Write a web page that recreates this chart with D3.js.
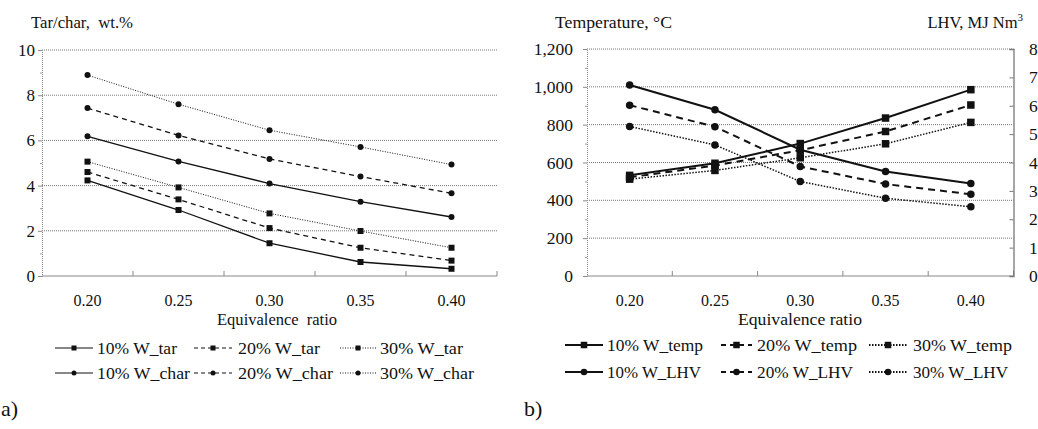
<!DOCTYPE html>
<html>
<head>
<meta charset="utf-8">
<script src="https://cdn.jsdelivr.net/npm/d3@7"></script>
</head>
<body style="margin:0">
<script>
// Dati
const ratios = ["0.20", "0.25", "0.30", "0.35", "0.40"];

const tar10 = [4.23, 2.92, 1.45, 0.62, 0.32];
const tar20 = [4.60, 3.39, 2.12, 1.25, 0.68];
const tar30 = [5.06, 3.92, 2.77, 1.99, 1.25];
const char10 = [6.18, 5.07, 4.09, 3.29, 2.61];
const char20 = [7.43, 6.22, 5.18, 4.40, 3.66];
const char30 = [8.89, 7.60, 6.45, 5.71, 4.93];

const temp10 = [532, 596, 700, 835, 985];
const temp20 = [522, 584, 665, 764, 904];
const temp30 = [512, 558, 625, 699, 812];
const lhv10 = [6.73, 5.86, 4.45, 3.68, 3.26];
const lhv20 = [6.02, 5.26, 3.86, 3.24, 2.88];
const lhv30 = [5.27, 4.62, 3.33, 2.74, 2.44];

const tarTicks = [0, 2, 4, 6, 8, 10];
const tempTicks = [0, 200, 400, 600, 800, 1000, 1200];
const lhvTicks = [0, 1, 2, 3, 4, 5, 6, 7, 8];

const FONT = "Times New Roman";

const svg = d3.select("body").append("svg").attr("width", 1038).attr("height", 429)
  .attr("font-family", FONT);

const styles = {
  solid: null,
  dashed: "5,4",
  dotted: "1,1.5"
};

// testo con font serif esplicito; len = larghezza misurata sul riferimento
function txt(parent, x, y, size, s, len) {
  const t = parent.append("text").attr("x", x).attr("y", y)
    .style("font-family", `"${FONT}"`)
    .attr("font-size", size).attr("fill", "#111").text(s);
  if (len) t.attr("textLength", len).attr("lengthAdjust", "spacingAndGlyphs");
  return t;
}

function drawPanel(opt) {
  const g = svg.append("g");
  const x = d3.scaleBand().domain(ratios).range([opt.x0, opt.x1]).padding(0);
  const y = d3.scaleLinear().domain([0, opt.yMax]).range([opt.y1, opt.y0]);

  // griglia tratteggiata
  g.selectAll(".grid").data(opt.yTicks.filter(d => d > 0)).enter().append("line")
    .attr("x1", opt.x0).attr("x2", opt.x1)
    .attr("y1", d => y(d)).attr("y2", d => y(d))
    .attr("stroke", "#777").attr("stroke-width", 1).attr("stroke-dasharray", "1,1");

  // asse y sinistro (linee con d3.axis, etichette a parte)
  const ay = g.append("g").attr("transform", `translate(${opt.x0},0)`)
    .call(d3.axisLeft(y).tickValues(opt.yTicks).tickSize(4).tickFormat(""));
  ay.select(".domain").attr("stroke", "#888").attr("stroke-dasharray", "1,1");
  ay.selectAll(".tick line").attr("stroke", "#888");
  opt.yTicks.forEach(v => {
    txt(g, opt.x0 - 4 - opt.yPad, y(v) + 6, opt.fs, opt.yFormat(v)).attr("text-anchor", "end");
  });

  const step = opt.yMax / (opt.yTicks.length - 1);
  const minorTicks = opt.yTicks.slice(0, -1).map(d => d + step / 2);
  g.append("g").attr("transform", `translate(${opt.x0},0)`)
    .call(d3.axisLeft(y).tickValues(minorTicks).tickSize(2).tickFormat(""))
    .call(a => a.select(".domain").remove())
    .selectAll(".tick line").attr("stroke", "#999");

  // asse x
  g.append("line").attr("x1", opt.x0).attr("x2", opt.x1)
    .attr("y1", opt.y1).attr("y2", opt.y1).attr("stroke", "#888");
  const edges = ratios.map(r => x(r)).concat([opt.x1]);
  g.selectAll(".xt").data(edges.slice(1)).enter().append("line")
    .attr("x1", d => d).attr("x2", d => d)
    .attr("y1", opt.y1).attr("y2", opt.y1 - 5).attr("stroke", "#888");
  ratios.forEach(r => {
    txt(g, x(r) + x.bandwidth() / 2 - 14, 306, opt.fs, r, 28);
  });

  txt(g, opt.xtX, 325, opt.fs, "Equivalence ratio", opt.xtLen).attr("word-spacing", opt.ws);

  txt(g, opt.titleX, 28, opt.fs - 1, opt.title, opt.titleLen).attr("word-spacing", opt.ws);

  return { g, x, y };
}

function drawSeries(p, values, yScale, dash, marker, w, ms) {
  const line = d3.line().x((d, i) => p.x(ratios[i]) + p.x.bandwidth() / 2).y(d => yScale(d));
  p.g.append("path").datum(values).attr("d", line)
    .attr("fill", "none").attr("stroke", "#111").attr("stroke-width", w)
    .attr("stroke-dasharray", dash);
  drawMarkers(p.g, values.map((d, i) => [p.x(ratios[i]) + p.x.bandwidth() / 2, yScale(d)]), marker, ms);
}

function drawMarkers(g, pts, marker, ms) {
  if (marker === "square") {
    g.selectAll(null).data(pts).enter().append("rect")
      .attr("x", d => d[0] - ms / 2).attr("y", d => d[1] - ms / 2)
      .attr("width", ms).attr("height", ms).attr("fill", "#111");
  } else {
    g.selectAll(null).data(pts).enter().append("circle")
      .attr("cx", d => d[0]).attr("cy", d => d[1]).attr("r", ms / 2).attr("fill", "#111");
  }
}

function drawLegend(g, items, fs, w, ms) {
  items.forEach(it => {
    g.append("line").attr("x1", it.lx0).attr("x2", it.lx1).attr("y1", it.y).attr("y2", it.y)
      .attr("stroke", "#111").attr("stroke-width", w).attr("stroke-dasharray", it.dash);
    drawMarkers(g, [[(it.lx0 + it.lx1) / 2, it.y]], it.marker, ms);
    txt(g, it.tx, it.y + 6, fs, it.label, it.len);
  });
}

// ---------- a) ----------
const pa = drawPanel({
  x0: 42, x1: 497, y0: 50, y1: 276, yMax: 10, yTicks: tarTicks, yPad: 3,
  yFormat: d3.format("d"), fs: 17, ws: 4, titleX: 31, title: "Tar/char, wt.%", titleLen: 102,
  xtX: 217, xtLen: 120
});
const ya = pa.y;
drawSeries(pa, char30, ya, styles.dotted, "circle", 1, 6);
drawSeries(pa, char20, ya, styles.dashed, "circle", 1.3, 6);
drawSeries(pa, char10, ya, styles.solid, "circle", 1.3, 6);
drawSeries(pa, tar30, ya, styles.dotted, "square", 1, 6);
drawSeries(pa, tar20, ya, styles.dashed, "square", 1.3, 6);
drawSeries(pa, tar10, ya, styles.solid, "square", 1.3, 6);

drawLegend(pa.g, [
  { lx0: 55, lx1: 93, tx: 97, y: 348, dash: styles.solid, marker: "square", label: "10% W_tar", len: 80 },
  { lx0: 194, lx1: 232, tx: 238, y: 348, dash: "4,3", marker: "square", label: "20% W_tar", len: 82 },
  { lx0: 340, lx1: 376, tx: 380, y: 348, dash: styles.dotted, marker: "square", label: "30% W_tar", len: 83 },
  { lx0: 55, lx1: 93, tx: 97, y: 373, dash: styles.solid, marker: "circle", label: "10% W_char", len: 93 },
  { lx0: 194, lx1: 232, tx: 238, y: 373, dash: "4,3", marker: "circle", label: "20% W_char", len: 95 },
  { lx0: 340, lx1: 376, tx: 380, y: 373, dash: styles.dotted, marker: "circle", label: "30% W_char", len: 94 }
], 17, 1.2, 5);

txt(svg, 1, 416, 22, "a)");

// ---------- b) ----------
const pb = drawPanel({
  x0: 587, x1: 1013.5, y0: 49, y1: 276, yMax: 1200, yTicks: tempTicks, yPad: 10,
  yFormat: d3.format(","), fs: 17.5, ws: 0, titleX: 555, title: "Temperature, \u00b0C", titleLen: 117,
  xtX: 738, xtLen: 124
});
const yLhv = d3.scaleLinear().domain([0, 8]).range([276, 49]);

// asse destro LHV
const ar = pb.g.append("g").attr("transform", "translate(1013.5,0)")
  .call(d3.axisRight(yLhv).tickValues(lhvTicks).tickSize(-4).tickFormat(""));
ar.select(".domain").attr("stroke", "#777").attr("stroke-width", 1.3);
ar.selectAll(".tick line").attr("stroke", "#777");
lhvTicks.forEach(v => txt(pb.g, 1029, yLhv(v) + 6, 17.5, String(v)));

const lhvTitle = txt(pb.g, 1023, 28, 16.5, null).attr("text-anchor", "end");
lhvTitle.append("tspan").text("LHV, MJ Nm");
lhvTitle.append("tspan").attr("font-size", 11).attr("dy", -7).text("3");

const dashB = "7,5", dotB = "1.5,1.5";
drawSeries(pb, lhv30, yLhv, dotB, "circle", 1.5, 7.5);
drawSeries(pb, lhv20, yLhv, dashB, "circle", 2, 7.5);
drawSeries(pb, lhv10, yLhv, styles.solid, "circle", 2, 7.5);
drawSeries(pb, temp30, pb.y, dotB, "square", 1.5, 7.5);
drawSeries(pb, temp20, pb.y, dashB, "square", 2, 7.5);
drawSeries(pb, temp10, pb.y, styles.solid, "square", 2, 7.5);

drawLegend(pb.g, [
  { lx0: 565, lx1: 603, tx: 607, y: 345, dash: styles.solid, marker: "square", label: "10% W_temp", len: 96 },
  { lx0: 721, lx1: 752, tx: 757, y: 345, dash: "5,4", marker: "square", label: "20% W_temp", len: 100 },
  { lx0: 869, lx1: 907, tx: 913, y: 345, dash: dotB, marker: "square", label: "30% W_temp", len: 99 },
  { lx0: 565, lx1: 603, tx: 607, y: 372, dash: styles.solid, marker: "circle", label: "10% W_LHV", len: 94 },
  { lx0: 721, lx1: 752, tx: 757, y: 372, dash: "5,4", marker: "circle", label: "20% W_LHV", len: 96 },
  { lx0: 869, lx1: 907, tx: 913, y: 372, dash: dotB, marker: "circle", label: "30% W_LHV", len: 95 }
], 17.5, 1.8, 6.5);

txt(svg, 524, 416, 22, "b)");
</script>
</body>
</html>
